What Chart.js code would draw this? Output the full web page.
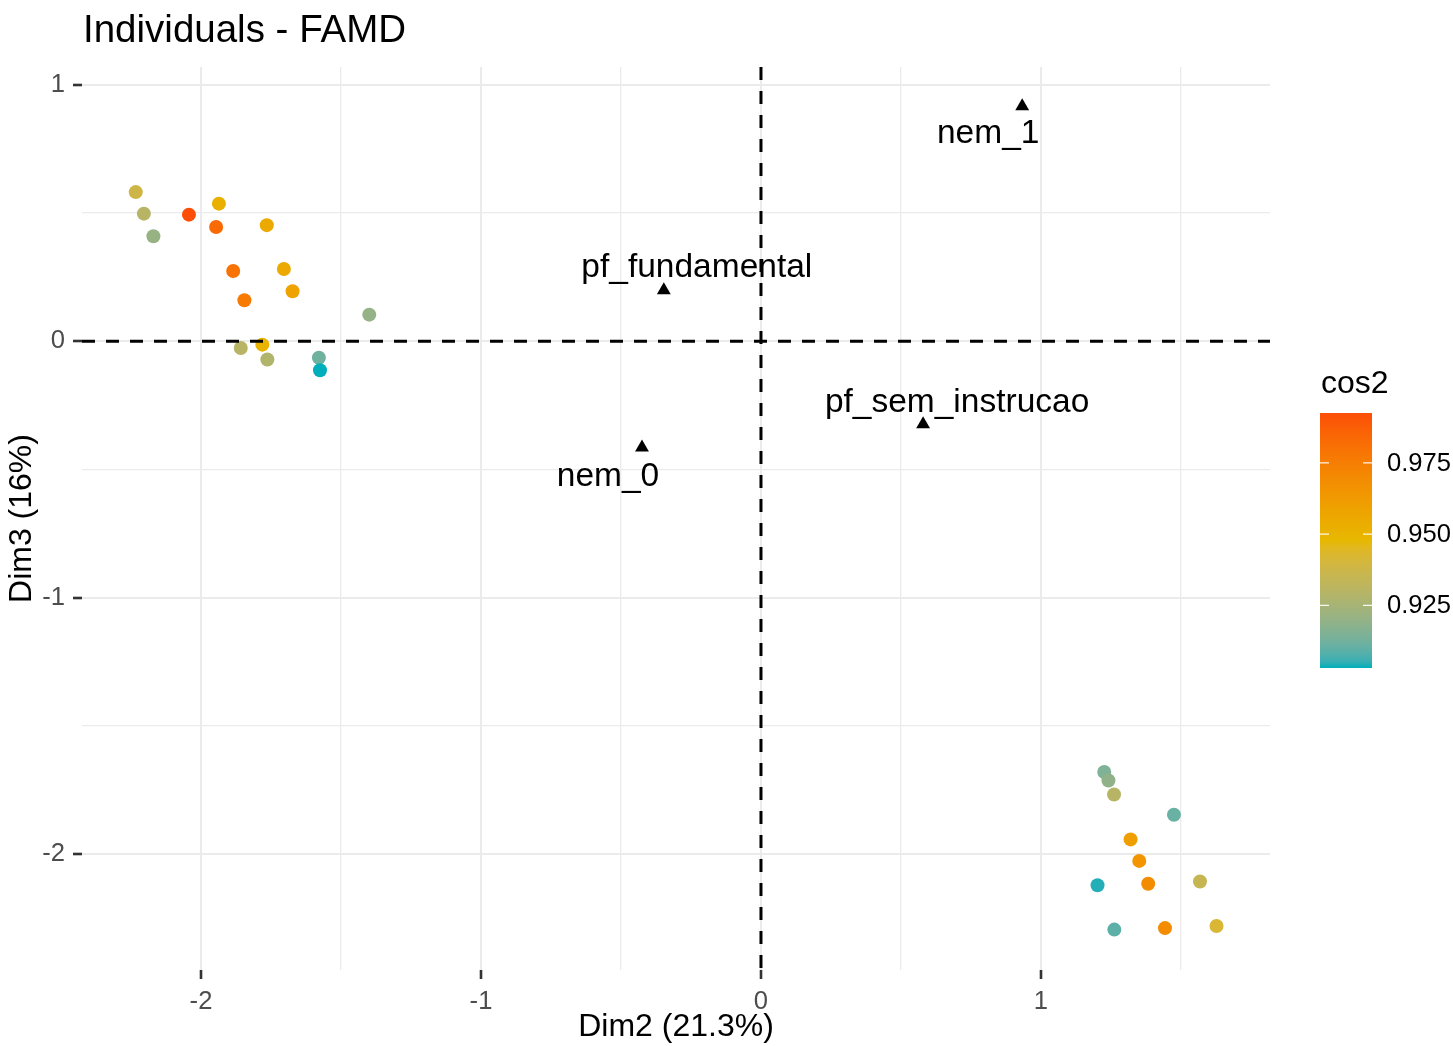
<!DOCTYPE html>
<html>
<head>
<meta charset="utf-8">
<script src="https://cdn.jsdelivr.net/npm/chart.js@4.4.1/dist/chart.umd.min.js"></script>
<style>
  html, body { margin: 0; padding: 0; background: #fff; }
</style>
</head>
<body>
<canvas id="famd" width="1453" height="1046"></canvas>
<script>
// individuals (Dim2, Dim3, cos2)
const indX = [-2.233, -2.204, -2.170, -2.043, -1.936, -1.946, -1.765, -1.885, -1.704, -1.845,
              -1.673, -1.399, -1.858, -1.781, -1.763, -1.579, -1.575,
              1.226, 1.241, 1.261, 1.475, 1.320, 1.351, 1.383, 1.202, 1.568, 1.262, 1.443, 1.627];
const indY = [0.582, 0.498, 0.410, 0.494, 0.537, 0.446, 0.453, 0.274, 0.282, 0.160,
              0.195, 0.104, -0.026, -0.013, -0.071, -0.064, -0.113,
              -1.680, -1.713, -1.768, -1.847, -1.943, -2.027, -2.116, -2.122, -2.107, -2.295, -2.289, -2.281];
const indCos2 = [0.938, 0.930, 0.921, 0.9925, 0.952, 0.983, 0.955, 0.980, 0.955, 0.977,
                 0.958, 0.920, 0.930, 0.950, 0.928, 0.912, 0.903,
                 0.915, 0.919, 0.930, 0.911, 0.960, 0.965, 0.969, 0.904, 0.935, 0.909, 0.969, 0.942];

// categories of the qualitative variables
const varNames = ['nem_1', 'pf_fundamental', 'pf_sem_instrucao', 'nem_0'];
const varX = [0.933, -0.347, 0.579, -0.425];
const varY = [0.917, 0.199, -0.324, -0.414];

const xTicks = [-2, -1, 0, 1];
const yTicks = [1, 0, -1, -2];
const cos2Ticks = [0.925, 0.950, 0.975];

const gradientCols = ['#00AFBB', '#E7B800', '#FC4E07'];
const FONT = '"Liberation Sans", Arial, Helvetica, sans-serif';

// ---- colour scale (Lab interpolation like ggplot) ----
function hexRgb(h) {
    return [1, 3, 5].map(i => parseInt(h.substr(i, 2), 16));
}
function rgbToLab(rgb) {
    const lin = rgb.map(c => { c /= 255; return c <= 0.04045 ? c / 12.92 : Math.pow((c + 0.055) / 1.055, 2.4); });
    const X = (0.4124 * lin[0] + 0.3576 * lin[1] + 0.1805 * lin[2]) / 0.95047;
    const Y = (0.2126 * lin[0] + 0.7152 * lin[1] + 0.0722 * lin[2]);
    const Z = (0.0193 * lin[0] + 0.1192 * lin[1] + 0.9505 * lin[2]) / 1.08883;
    const f = t => t > 0.008856 ? Math.cbrt(t) : 7.787 * t + 16 / 116;
    const fx = f(X), fy = f(Y), fz = f(Z);
    return [116 * fy - 16, 500 * (fx - fy), 200 * (fy - fz)];
}
function labToRgb(lab) {
    const fy = (lab[0] + 16) / 116, fx = fy + lab[1] / 500, fz = fy - lab[2] / 200;
    const fi = t => t > 0.206893 ? t * t * t : (t - 16 / 116) / 7.787;
    const X = fi(fx) * 0.95047, Y = fi(fy), Z = fi(fz) * 1.08883;
    const r = 3.2406 * X - 1.5372 * Y - 0.4986 * Z;
    const g = -0.9689 * X + 1.8758 * Y + 0.0415 * Z;
    const b = 0.0557 * X - 0.2040 * Y + 1.0570 * Z;
    return [r, g, b].map(c => {
        c = c <= 0.0031308 ? 12.92 * c : 1.055 * Math.pow(c, 1 / 2.4) - 0.055;
        return Math.max(0, Math.min(255, Math.round(c * 255)));
    });
}
const labStops = gradientCols.map(c => rgbToLab(hexRgb(c)));
const cosMin = Math.min(...indCos2);
const cosMax = Math.max(...indCos2);

function colorAt(t) {
    t = Math.max(0, Math.min(1, t));
    const seg = Math.min(labStops.length - 2, Math.floor(t * (labStops.length - 1)));
    const u = t * (labStops.length - 1) - seg;
    const a = labStops[seg], b = labStops[seg + 1];
    const rgb = labToRgb([0, 1, 2].map(i => a[i] + (b[i] - a[i]) * u));
    return 'rgb(' + rgb.join(',') + ')';
}
function cos2Color(v) {
    return colorAt((v - cosMin) / (cosMax - cosMin));
}

const isInt = v => Math.abs(v - Math.round(v)) < 1e-9;

// major ticks at the integers, minor grid lines half way between
const halfSteps = scale => {
    const out = [];
    for (let v = Math.ceil(scale.min * 2) / 2; v <= scale.max + 1e-9; v += 0.5) {
        out.push({ value: Math.round(v * 2) / 2 });
    }
    scale.ticks = out;
};

// ---- plugins ----
const titlePlugin = {
    id: 'plotTitle',
    afterDraw(chart) {
        const c = chart.ctx;
        c.save();
        c.font = '38.5px ' + FONT;
        c.fillStyle = '#000';
        c.textBaseline = 'alphabetic';
        c.fillText('Individuals - FAMD', 83, 42);
        c.restore();
    }
};

const labelOffsets = { nem_1: [-34, 37], pf_fundamental: [33, -13], pf_sem_instrucao: [34, -12], nem_0: [-34, 39] };

const labelsAndAxes = {
    id: 'labelsAndAxes',
    afterDatasetsDraw(chart) {
        const c = chart.ctx;
        const xs = chart.scales.x, ys = chart.scales.y;
        const area = chart.chartArea;
        c.save();
        c.font = '33.5px ' + FONT;
        c.fillStyle = '#000';
        c.textAlign = 'center';
        c.textBaseline = 'alphabetic';
        varNames.forEach((name, i) => {
            const off = labelOffsets[name];
            c.fillText(name, xs.getPixelForValue(varX[i]) + off[0], ys.getPixelForValue(varY[i]) + off[1]);
        });
        // dashed zero lines
        c.strokeStyle = '#000';
        c.lineWidth = 3;
        c.setLineDash([13, 11]);
        const x0 = xs.getPixelForValue(0), y0 = ys.getPixelForValue(0);
        c.beginPath();
        c.moveTo(area.left, y0); c.lineTo(area.right, y0);
        c.moveTo(x0, area.top); c.lineTo(x0, area.bottom);
        c.stroke();
        c.restore();
    }
};

const colorBar = {
    id: 'colorBar',
    afterDraw(chart) {
        const c = chart.ctx;
        const left = 1320, w = 52, top = 413, h = 255;
        const bottom = top + h;
        c.save();
        const g = c.createLinearGradient(0, bottom, 0, top);
        for (let i = 0; i <= 40; i++) g.addColorStop(i / 40, colorAt(i / 40));
        c.fillStyle = g;
        c.fillRect(left, top, w, h);
        c.font = '32px ' + FONT;
        c.fillStyle = '#000';
        c.textBaseline = 'alphabetic';
        c.fillText('cos2', 1321, 393);
        c.font = '25.6px ' + FONT;
        c.textBaseline = 'middle';
        c.strokeStyle = 'rgba(255,255,255,0.9)';
        c.lineWidth = 1.2;
        cos2Ticks.forEach(v => {
            const y = bottom - (v - cosMin) / (cosMax - cosMin) * h;
            c.beginPath();
            c.moveTo(left, y); c.lineTo(left + 9, y);
            c.moveTo(left + w - 9, y); c.lineTo(left + w, y);
            c.stroke();
            c.fillText(v.toFixed(3), 1387, y + 1);
        });
        c.restore();
    }
};

// ---- chart ----
const gridOpts = {
    color: '#ebebeb',
    lineWidth: ctx => isInt(ctx.tick.value) ? 2 : 1.3,
    drawTicks: true,
    tickLength: 9,
    tickWidth: 2.6,
    tickColor: ctx => isInt(ctx.tick.value) ? '#333333' : 'rgba(0,0,0,0)'
};
const tickFont = { family: FONT, size: 25.6 };
const titleFont = { family: FONT, size: 32 };

const ctx = document.getElementById('famd');
new Chart(ctx, {
    type: 'scatter',
    data: {
        datasets: [{
            label: 'individuals',
            data: indX.map((x, i) => ({ x: x, y: indY[i] })),
            pointBackgroundColor: indCos2.map(cos2Color),
            pointBorderWidth: 0,
            borderWidth: 0,
            pointRadius: 7,
            pointStyle: 'circle'
        }, {
            label: 'variables',
            data: varX.map((x, i) => ({ x: x, y: varY[i] })),
            pointBackgroundColor: '#000',
            pointBorderWidth: 0,
            borderWidth: 0,
            pointRadius: 8,
            pointStyle: 'triangle'
        }]
    },
    options: {
        responsive: false,
        animation: false,
        layout: { padding: { left: 0, top: 67, right: 183, bottom: 0 } },
        plugins: { legend: { display: false }, tooltip: { enabled: false } },
        scales: {
            x: {
                type: 'linear',
                min: -2.425, max: 1.818,
                afterBuildTicks: halfSteps,
                afterFit: s => { s.height = 76; },
                ticks: {
                    autoSkip: false, maxRotation: 0, padding: 8,
                    color: '#4d4d4d', font: tickFont,
                    callback: v => xTicks.includes(v) ? String(v) : ''
                },
                grid: gridOpts,
                border: { display: false },
                title: { display: true, text: 'Dim2 (21.3%)', color: '#000', font: titleFont, padding: { top: 0, bottom: 0 } }
            },
            y: {
                type: 'linear',
                min: -2.4525, max: 1.070,
                afterBuildTicks: halfSteps,
                afterFit: s => { s.width = 82; },
                ticks: {
                    autoSkip: false, padding: 8,
                    color: '#4d4d4d', font: tickFont,
                    callback: v => yTicks.includes(v) ? String(v) : ''
                },
                grid: gridOpts,
                border: { display: false },
                title: { display: true, text: 'Dim3 (16%)', color: '#000', font: titleFont, padding: { top: 3, bottom: 0 } }
            }
        }
    },
    plugins: [titlePlugin, labelsAndAxes, colorBar]
});
</script>
</body>
</html>
